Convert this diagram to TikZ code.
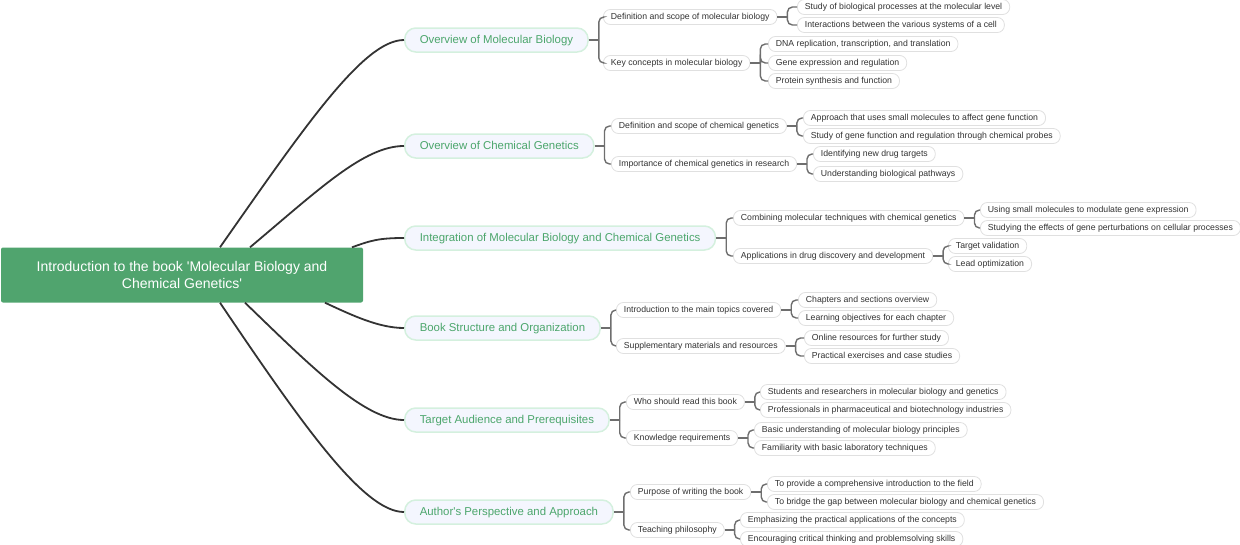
\documentclass[tikz,border=0pt]{standalone}
\usepackage{fontspec}
\setmainfont{Liberation Sans}
\usetikzlibrary{calc}
\definecolor{rootgreen}{RGB}{80,164,110}
\definecolor{topicgreen}{RGB}{76,166,108}
\definecolor{topicfill}{RGB}{244,246,254}
\definecolor{topicborder}{RGB}{212,240,222}
\definecolor{leafborder}{RGB}{224,224,224}
\definecolor{linkdark}{RGB}{51,51,51}
\definecolor{linkgray}{RGB}{110,110,110}
\definecolor{textdark}{RGB}{51,51,51}
\newcommand{\mmbranch}[2]{%
  \coordinate (#1-j) at ($(#1.east)+(10,0)$);
  \draw[branchlink] (#1.east) -- (#1-j);
  \foreach \cc in {#2} {\draw[branchlink] (#1-j) |- (\cc.west);}
}
\begin{document}
\begin{tikzpicture}[x=1pt,y=-1pt,
 rootbox/.style={fill=rootgreen, rounded corners=2pt, minimum width=362pt, minimum height=55pt, text=white, font=\fontsize{14}{17}\selectfont, align=center, inner sep=0pt},
 topicbox/.style={draw=topicborder, line width=1.5pt, fill=topicfill, rounded corners=11pt, minimum height=24pt, inner xsep=15pt, inner ysep=0pt, text height=8.5pt, text depth=2.5pt, text=topicgreen, font=\fontsize{11.4}{13}\selectfont, anchor=west},
 leafbox/.style={draw=leafborder, line width=0.8pt, fill=white, rounded corners=7pt, minimum height=15pt, inner xsep=7.5pt, inner ysep=0pt, text height=6.5pt, text depth=2pt, text=textdark, font=\fontsize{8.7}{10}\selectfont, anchor=west},
 rootlink/.style={draw=linkdark, line width=1.8pt},
 branchlink/.style={draw=linkgray, line width=1.4pt, rounded corners=5pt},
]
\useasboundingbox (0,0) rectangle (1240,544);

\node[rootbox] (root) at (182,275) {Introduction to the book \textquotesingle Molecular Biology and\\Chemical Genetics\textquotesingle};

% level 1
\node[topicbox] (t1) at (404,40) {Overview of Molecular Biology};
\node[topicbox] (t2) at (404,146) {Overview of Chemical Genetics};
\node[topicbox] (t3) at (404,238) {Integration of Molecular Biology and Chemical Genetics};
\node[topicbox] (t4) at (404,328) {Book Structure and Organization};
\node[topicbox] (t5) at (404,420) {Target Audience and Prerequisites};
\node[topicbox] (t6) at (404,512) {Author\textquotesingle s Perspective and Approach};

% root links
\coordinate (r1) at ([xshift=38]root.north);
\coordinate (r2) at ([xshift=68]root.north);
\coordinate (r3) at ([xshift=170]root.north);
\coordinate (r4) at ([xshift=143]root.south);
\coordinate (r5) at ([xshift=63]root.south);
\coordinate (r6) at ([xshift=38]root.south);
\draw[rootlink] (r1) .. controls +(-55:150) and +(-40,0) .. (t1.west);
\draw[rootlink] (r2) .. controls +(-40:90) and +(-40,0) .. (t2.west);
\draw[rootlink] (r3) .. controls +(-20:20) and +(-25,0) .. (t3.west);
\draw[rootlink] (r4) .. controls +(25:30) and +(-25,0) .. (t4.west);
\draw[rootlink] (r5) .. controls +(44:90) and +(-40,0) .. (t5.west);
\draw[rootlink] (r6) .. controls +(56:150) and +(-40,0) .. (t6.west);

% group 1
\node[leafbox] (t1a) at (603,17) {Definition and scope of molecular biology};
\node[leafbox] (t1b) at (603,63) {Key concepts in molecular biology};
\node[leafbox] (t1a1) at (797,7) {Study of biological processes at the molecular level};
\node[leafbox] (t1a2) at (797,25) {Interactions between the various systems of a cell};
\node[leafbox] (t1b1) at (768,44) {DNA replication, transcription, and translation};
\node[leafbox] (t1b2) at (768,63) {Gene expression and regulation};
\node[leafbox] (t1b3) at (768,81) {Protein synthesis and function};

% group 2
\node[leafbox] (t2a) at (611,126) {Definition and scope of chemical genetics};
\node[leafbox] (t2b) at (611,164) {Importance of chemical genetics in research};
\node[leafbox] (t2a1) at (803,118) {Approach that uses small molecules to affect gene function};
\node[leafbox] (t2a2) at (803,136) {Study of gene function and regulation through chemical probes};
\node[leafbox] (t2b1) at (813,154) {Identifying new drug targets};
\node[leafbox] (t2b2) at (813,174) {Understanding biological pathways};

% group 3
\node[leafbox] (t3a) at (733,218) {Combining molecular techniques with chemical genetics};
\node[leafbox] (t3b) at (733,256) {Applications in drug discovery and development};
\node[leafbox] (t3a1) at (980,210) {Using small molecules to modulate gene expression};
\node[leafbox] (t3a2) at (980,228) {Studying the effects of gene perturbations on cellular processes};
\node[leafbox] (t3b1) at (948,246) {Target validation};
\node[leafbox] (t3b2) at (948,264) {Lead optimization};

% group 4
\node[leafbox] (t4a) at (616,310) {Introduction to the main topics covered};
\node[leafbox] (t4b) at (616,346) {Supplementary materials and resources};
\node[leafbox] (t4a1) at (798,300) {Chapters and sections overview};
\node[leafbox] (t4a2) at (798,318) {Learning objectives for each chapter};
\node[leafbox] (t4b1) at (804,338) {Online resources for further study};
\node[leafbox] (t4b2) at (804,356) {Practical exercises and case studies};

% group 5
\node[leafbox] (t5a) at (626,402) {Who should read this book};
\node[leafbox] (t5b) at (626,438) {Knowledge requirements};
\node[leafbox] (t5a1) at (760,392) {Students and researchers in molecular biology and genetics};
\node[leafbox] (t5a2) at (760,410) {Professionals in pharmaceutical and biotechnology industries};
\node[leafbox] (t5b1) at (754,430) {Basic understanding of molecular biology principles};
\node[leafbox] (t5b2) at (754,448) {Familiarity with basic laboratory techniques};

% group 6
\node[leafbox] (t6a) at (630,492) {Purpose of writing the book};
\node[leafbox] (t6b) at (630,530) {Teaching philosophy};
\node[leafbox] (t6a1) at (767,484) {To provide a comprehensive introduction to the field};
\node[leafbox] (t6a2) at (767,502) {To bridge the gap between molecular biology and chemical genetics};
\node[leafbox] (t6b1) at (740,520) {Emphasizing the practical applications of the concepts};
\node[leafbox] (t6b2) at (740,539) {Encouraging critical thinking and problemsolving skills};

% branch links
\mmbranch{t1}{t1a,t1b}
\mmbranch{t1a}{t1a1,t1a2}
\mmbranch{t1b}{t1b1,t1b2,t1b3}
\mmbranch{t2}{t2a,t2b}
\mmbranch{t2a}{t2a1,t2a2}
\mmbranch{t2b}{t2b1,t2b2}
\mmbranch{t3}{t3a,t3b}
\mmbranch{t3a}{t3a1,t3a2}
\mmbranch{t3b}{t3b1,t3b2}
\mmbranch{t4}{t4a,t4b}
\mmbranch{t4a}{t4a1,t4a2}
\mmbranch{t4b}{t4b1,t4b2}
\mmbranch{t5}{t5a,t5b}
\mmbranch{t5a}{t5a1,t5a2}
\mmbranch{t5b}{t5b1,t5b2}
\mmbranch{t6}{t6a,t6b}
\mmbranch{t6a}{t6a1,t6a2}
\mmbranch{t6b}{t6b1,t6b2}
\end{tikzpicture}
\end{document}
